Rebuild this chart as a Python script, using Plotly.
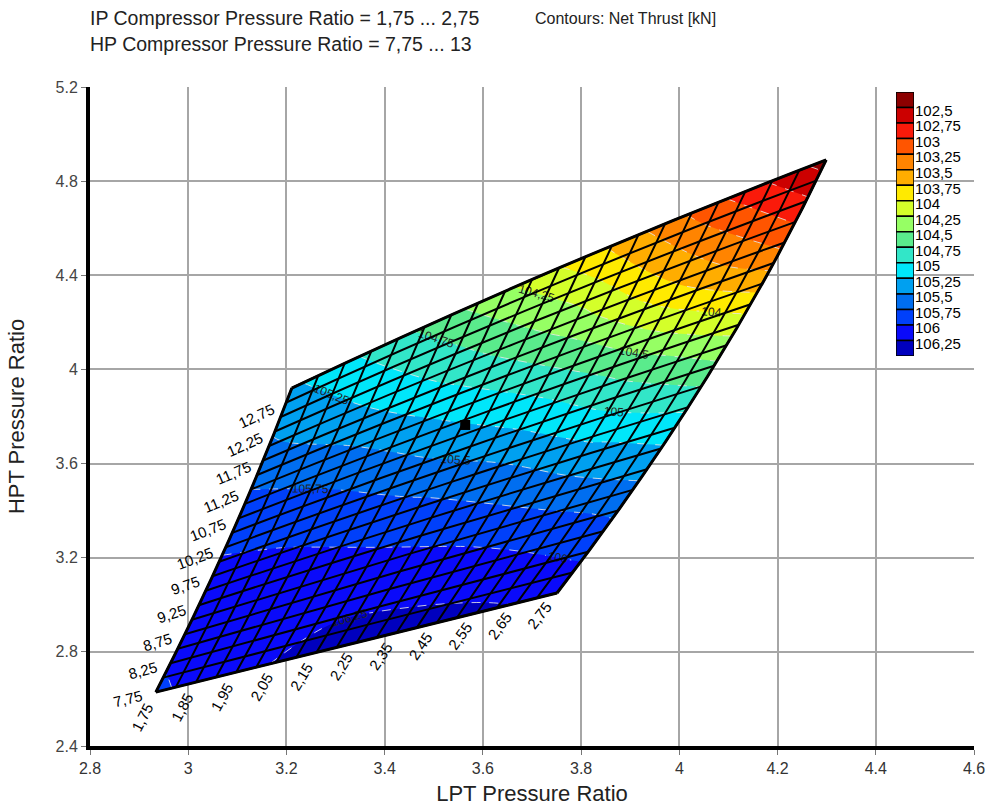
import plotly.graph_objects as go

# Carpet parameters: IP and HP compressor pressure ratios
ip_pr = [1.75, 2.25, 2.75]
hp_pr = [7.75, 10.375, 13.0]

# Turbine pressure ratios at the carpet nodes (rows follow hp_pr, columns follow ip_pr)
lpt_pr = [
    [2.934, 3.343, 3.751],
    [3.083, 3.566, 4.058],
    [3.211, 3.755, 4.299],
]
hpt_pr = [
    [2.629, 2.840, 3.050],
    [3.275, 3.636, 3.972],
    [3.921, 4.431, 4.890],
]

# Net thrust [kN] over the compressor pressure ratio space
thrust_ip = [1.75, 1.95, 2.15, 2.35, 2.55, 2.75]
thrust_hp = [7.75, 8.8, 9.85, 10.9, 11.95, 13.0]
net_thrust = [
    [105.95, 106.20, 106.32, 106.35, 106.30, 106.18],
    [106.10, 106.14, 106.15, 106.05, 105.90, 105.68],
    [106.05, 105.98, 105.82, 105.61, 105.30, 105.07],
    [105.85, 105.67, 105.36, 105.03, 104.63, 104.22],
    [105.55, 105.24, 104.84, 104.38, 103.75, 103.22],
    [105.30, 104.83, 104.30, 103.72, 103.05, 102.40],
]

# Design point
design_lpt = [3.564]
design_hpt = [3.764]

# Contour levels and band colours (lowest thrust first)
level_start, level_end, level_step = 102.5, 106.25, 0.25
level_labels = ["102,5", "102,75", "103", "103,25", "103,5", "103,75", "104",
                "104,25", "104,5", "104,75", "105", "105,25", "105,5", "105,75",
                "106", "106,25"]
band_colors = ["#8c0000", "#cc0000", "#fa1a0a", "#ff5500", "#ff8400", "#ffad00",
               "#ffea00", "#d4ff2a", "#96ff64", "#5aeb8c", "#32e6c8", "#00e6fa",
               "#00a0f0", "#006ef0", "#0040fa", "#0a0afa", "#0000be"]

x_ticks = [2.8, 3.0, 3.2, 3.4, 3.6, 3.8, 4.0, 4.2, 4.4, 4.6]
x_tick_text = ["2.8", "3", "3.2", "3.4", "3.6", "3.8", "4", "4.2", "4.4", "4.6"]
y_ticks = [2.4, 2.8, 3.2, 3.6, 4.0, 4.4, 4.8, 5.2]
y_tick_text = ["2.4", "2.8", "3.2", "3.6", "4", "4.4", "4.8", "5.2"]

FONT = "Liberation Sans, Arial, sans-serif"

n_bands = len(band_colors)
colorscale = [[i / (n_bands - 1), c] for i, c in enumerate(band_colors)]

fig = go.Figure()

fig.add_trace(go.Contourcarpet(
    a=thrust_ip, b=thrust_hp, z=net_thrust, carpet="perf_map",
    autocontour=False,
    contours=dict(start=level_start, end=level_end, size=level_step,
                  coloring="fill", showlabels=True,
                  labelfont=dict(family=FONT, size=12, color="#222222")),
    line=dict(color="rgba(230,230,230,0.85)", width=1, dash="dash", smoothing=1),
    colorscale=colorscale, showscale=False,
))

grid_axis = dict(
    tickmode="linear", minorgridcount=1,
    gridcolor="black", gridwidth=2,
    minorgridcolor="black", minorgridwidth=2,
    startlinecolor="black", startlinewidth=3,
    endlinecolor="black", endlinewidth=3,
    showticklabels="start", tickformat=".2f",
    tickfont=dict(family=FONT, size=15, color="black"),
    labelpadding=14, smoothing=1,
)
fig.add_trace(go.Carpet(
    carpet="perf_map", a=ip_pr, b=hp_pr, x=lpt_pr, y=hpt_pr,
    aaxis=dict(grid_axis, tick0=ip_pr[0], dtick=0.1),
    baxis=dict(grid_axis, tick0=hp_pr[0], dtick=0.5),
))

fig.add_trace(go.Scatter(
    x=design_lpt, y=design_hpt, mode="markers",
    marker=dict(symbol="square", size=10, color="black"),
    showlegend=False, hoverinfo="skip",
))

# Contour key: one stacked block per band
fig.add_trace(go.Bar(
    x=[0] * n_bands, y=[1] * n_bands, width=1,
    marker=dict(color=band_colors, line=dict(color="black", width=1.5)),
    xaxis="x2", yaxis="y2", showlegend=False, hoverinfo="skip",
))

fig.update_layout(
    width=990, height=808,
    margin=dict(l=90, r=16, t=87, b=62, autoexpand=False),
    paper_bgcolor="white", plot_bgcolor="rgba(0,0,0,0)",
    separators=",.", barmode="stack", showlegend=False,
    font=dict(family=FONT, color="#222222"),
    xaxis=dict(
        range=[2.8, 4.6], tickvals=x_ticks, ticktext=x_tick_text,
        showgrid=True, gridcolor="#a6a6a6", gridwidth=1.5,
        showline=True, linecolor="black", linewidth=4,
        ticks="outside", ticklen=5, tickcolor="#777777",
        tickfont=dict(size=16, color="#333333"),
        title=dict(text="LPT Pressure Ratio", font=dict(size=22, color="#222222"),
                   standoff=10),
        zeroline=False, automargin=False,
    ),
    yaxis=dict(
        range=[2.4, 5.2], tickvals=y_ticks, ticktext=y_tick_text,
        showgrid=True, gridcolor="#a6a6a6", gridwidth=1.5,
        showline=True, linecolor="black", linewidth=4,
        ticks="outside", ticklen=5, tickcolor="#777777",
        tickfont=dict(size=16, color="#444444"),
        title=dict(text="HPT Pressure Ratio", font=dict(size=22, color="#222222"),
                   standoff=26),
        zeroline=False, automargin=False,
    ),
    xaxis2=dict(domain=[0.9118, 0.9321], anchor="y2", range=[-0.5, 0.5],
                visible=False, fixedrange=True),
    yaxis2=dict(domain=[0.5918, 0.9924], anchor="x2", range=[n_bands, 0],
                side="right", tickvals=[i + 1.2 for i in range(n_bands - 1)],
                ticktext=level_labels, automargin=False,
                showgrid=False, zeroline=False, showline=False, ticks="",
                tickfont=dict(size=15, color="black"), fixedrange=True),
    annotations=[
        dict(text="IP Compressor Pressure Ratio = 1,75 ... 2,75", xref="paper", yref="paper",
             x=-0.002, y=1.1047, xanchor="left", yanchor="middle", showarrow=False,
             font=dict(size=19.5, color="#222222")),
        dict(text="HP Compressor Pressure Ratio = 7,75 ... 13", xref="paper", yref="paper",
             x=-0.002, y=1.065, xanchor="left", yanchor="middle", showarrow=False,
             font=dict(size=19.5, color="#222222")),
        dict(text="Contours: Net Thrust [kN]", xref="paper", yref="paper",
             x=0.501, y=1.1047, xanchor="left", yanchor="middle", showarrow=False,
             font=dict(size=16, color="#222222")),
    ],
)

fig.write_html("out.html")
